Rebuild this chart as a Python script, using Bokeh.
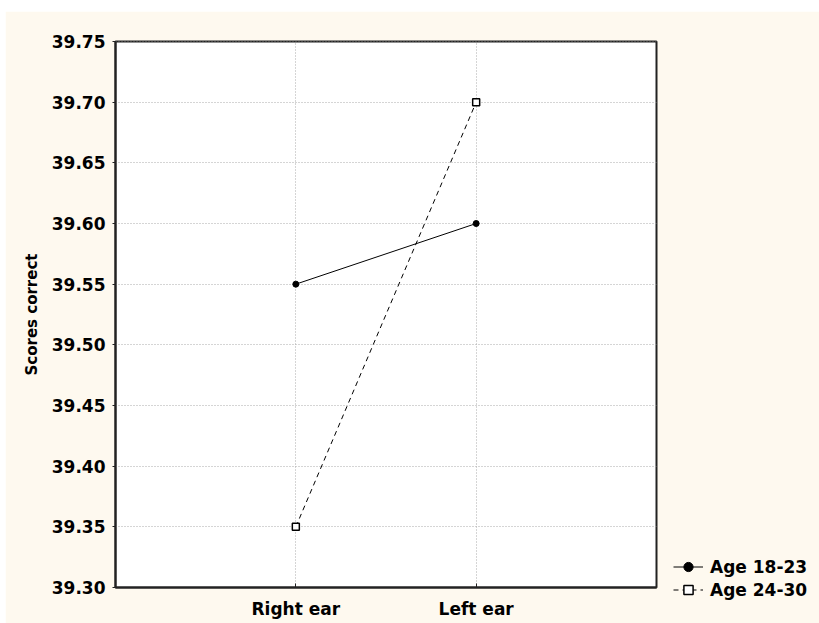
from bokeh.plotting import figure
from bokeh.layouts import column, row
from bokeh.models import FixedTicker, Legend, LegendItem, NumeralTickFormatter, Range1d, Spacer
from bokeh.embed import file_html
from bokeh.resources import INLINE

# ---- data ----
categories = ["Right ear", "Left ear"]
series_names = ["Age 18-23", "Age 24-30"]
age_18_23 = [39.55, 39.60]
age_24_30 = [39.35, 39.70]
y_ticks = [39.30, 39.35, 39.40, 39.45, 39.50, 39.55, 39.60, 39.65, 39.70, 39.75]
y_label = "Scores correct"

x_pos = [i + 1 for i in range(len(categories))]

FONT = "DejaVu Sans"
CREAM = "#FEF9EF"
FRAME_W = 541

p = figure(
    frame_width=FRAME_W, frame_height=546,
    min_border_left=110, min_border_right=162, min_border_top=30, min_border_bottom=36,
    output_backend="svg", toolbar_location=None,
    x_range=Range1d(0, len(categories) + 1),
    y_range=Range1d(y_ticks[0] - 1e-6, y_ticks[-1] + 1e-6),
    background_fill_color="white", border_fill_color=CREAM,
)
p.outline_line_color = "#222222"
p.outline_line_width = 2

# axes
p.xaxis.ticker = FixedTicker(ticks=x_pos)
p.xaxis.major_label_overrides = {x: c for x, c in zip(x_pos, categories)}
p.yaxis.ticker = FixedTicker(ticks=y_ticks)
p.yaxis.formatter = NumeralTickFormatter(format="0.00")
for ax in (p.xaxis[0], p.yaxis[0]):
    ax.axis_line_color = "#222222"
    ax.axis_line_width = 2
    ax.major_label_text_font = FONT
    ax.major_label_text_font_style = "bold"
    ax.major_label_text_font_size = "17px"
    ax.major_label_text_color = "black"
    ax.minor_tick_line_color = None
    ax.major_tick_line_color = "#222222"
p.xaxis.major_tick_in = 4
p.xaxis.major_tick_out = 0
p.xaxis.major_label_standoff = 11
p.yaxis.major_tick_in = 0
p.yaxis.major_tick_out = 3
p.yaxis.major_label_standoff = 7
p.yaxis.axis_label = y_label
p.yaxis.axis_label_text_font = FONT
p.yaxis.axis_label_text_font_style = "bold"
p.yaxis.axis_label_text_font_size = "15px"
p.yaxis.axis_label_text_color = "black"
p.yaxis.axis_label_standoff = 8

# grid
for g in (p.xgrid[0], p.ygrid[0]):
    g.grid_line_color = "#aaaaaa"
    g.grid_line_dash = "1 2"
    g.grid_line_width = 1
p.xgrid.ticker = FixedTicker(ticks=x_pos)
p.ygrid.ticker = FixedTicker(ticks=y_ticks)

# series
l1 = p.line(x_pos, age_18_23, line_color="black", line_width=1)
m1 = p.scatter(x_pos, age_18_23, marker="circle", size=6, fill_color="black", line_color="black")
l2 = p.line(x_pos, age_24_30, line_color="black", line_width=1, line_dash="5 4")
m2 = p.scatter(x_pos, age_24_30, marker="square", size=7, fill_color="white", line_color="black", line_width=1.5)

legend = Legend(
    items=[LegendItem(label=series_names[0], renderers=[l1, m1]),
           LegendItem(label=series_names[1], renderers=[l2, m2])],
    location=(17, -14),
    padding=0, margin=0, spacing=0,
    glyph_width=30, glyph_height=23, label_height=23, label_standoff=7,
    label_text_font=FONT, label_text_font_style="bold", label_text_font_size="17px",
    label_text_color="black",
    border_line_color=None, background_fill_alpha=0,
)
p.add_layout(legend, "right")

layout = row(Spacer(width=5), column(Spacer(height=11), p))
open("out.html", "w").write(file_html(layout, INLINE))
